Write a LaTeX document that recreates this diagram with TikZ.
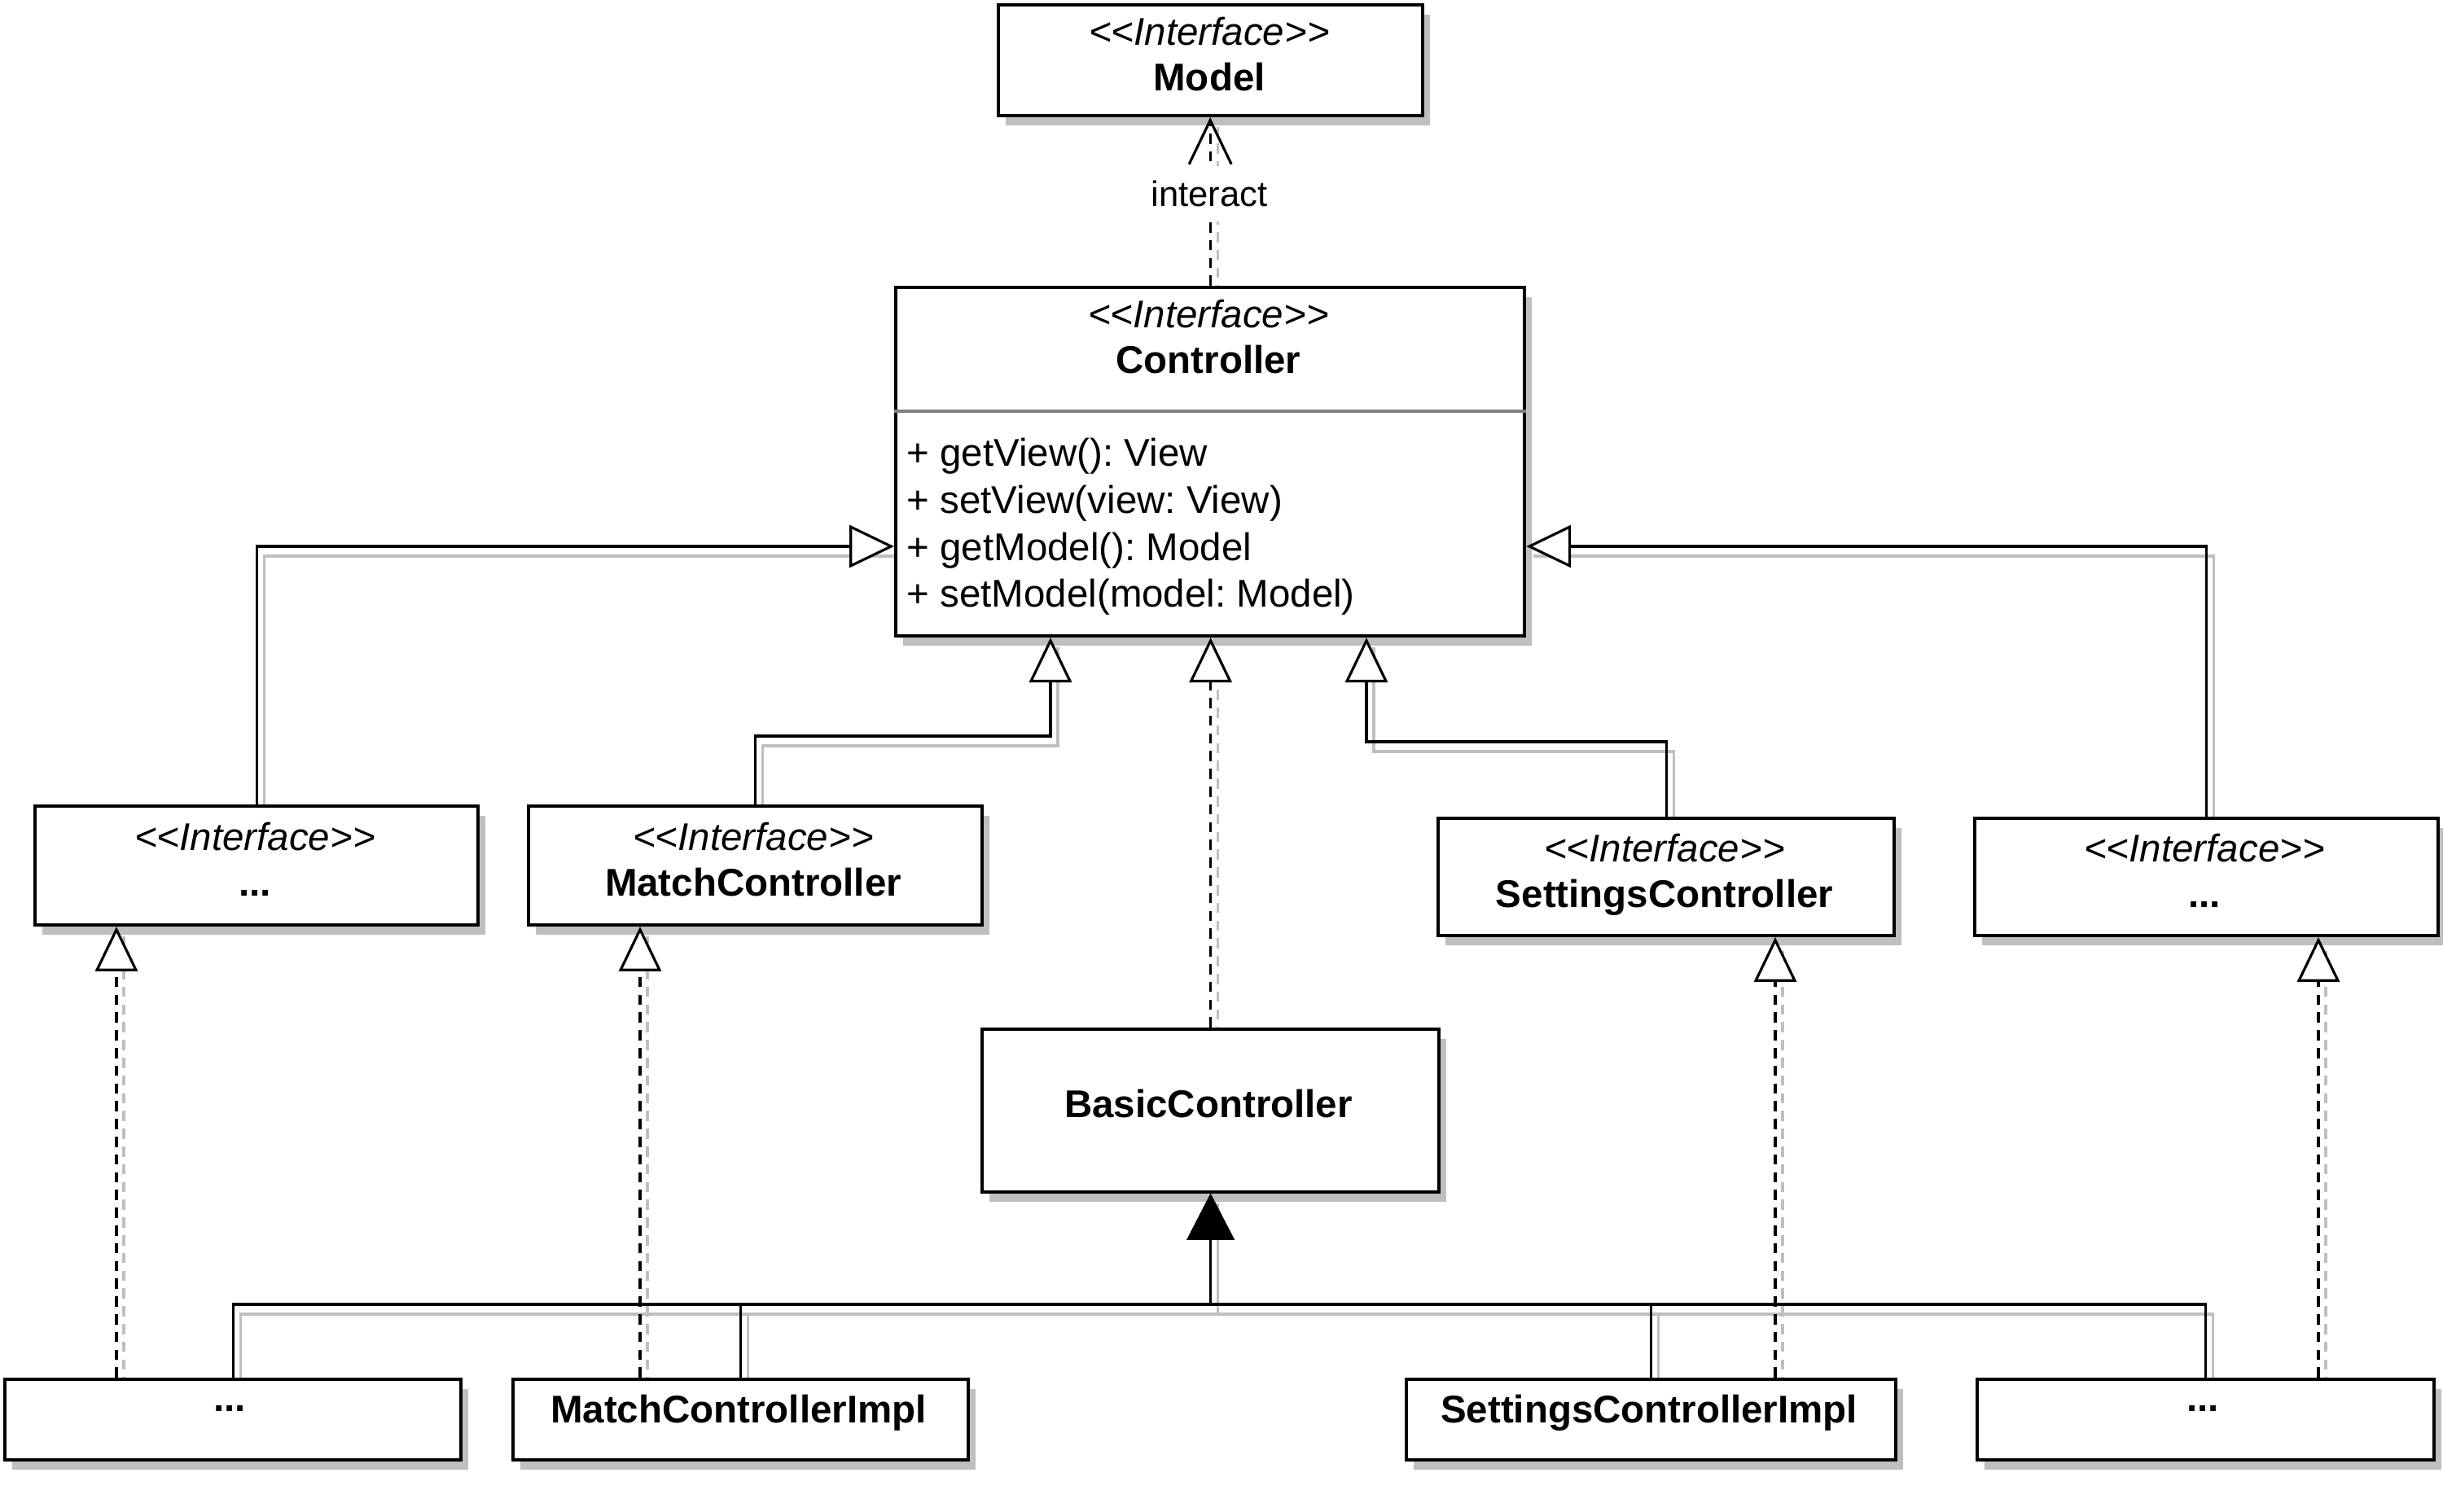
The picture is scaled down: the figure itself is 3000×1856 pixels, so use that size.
\documentclass[tikz,border=0pt]{standalone}
\usepackage{fontspec}
\setmainfont{Liberation Sans}
\usetikzlibrary{arrows.meta,shadows}
\pgfdeclarelayer{background}
\pgfsetlayers{background,main}
\frenchspacing
\newcommand\fs{\fontsize{13.5}{16.4}\selectfont}
\newcommand\conn[2]{%
  \begin{pgfonlayer}{background}\draw[#1,cshadow] #2;\end{pgfonlayer}%
  \draw[#1] #2;}
\begin{document}
\begin{tikzpicture}[x=0.01cm,y=-0.01cm,
  ubox/.style={draw, line width=1.1pt, fill=white, inner sep=0pt, anchor=north west,
    drop shadow={shadow xshift=0.09cm, shadow yshift=-0.12cm, fill=black!25, opacity=1}},
  utxt/.style={anchor=base, inner sep=0pt, font=\fs},
  ustereo/.style={utxt, font=\fs\itshape},
  utitle/.style={utxt, font=\fs\bfseries},
  umeth/.style={utxt, anchor=base west},
  cline/.style={line width=0.9pt, line join=miter},
  cshadow/.style={draw=black!25, arrows=-, transform canvas={shift={(9,12)}}},
  udsh/.style={dash pattern=on 3.6pt off 2.6pt},
  ugen/.style={cline, -{Triangle[length=15.6pt, width=14.8pt, fill=white]}},
  ureal/.style={ugen, udsh},
  udep/.style={cline, udsh, -{Straight Barb[length=15.4pt, width=14.8pt]}},
  uinh/.style={cline, -{Triangle[length=16.2pt, width=16.5pt]}},
  ulbl/.style={fill=white, font=\fontsize{12.4}{14}\selectfont, inner xsep=2pt, inner ysep=5pt}
]
\useasboundingbox (0,0) rectangle (3000,1856);

% boxes
\node[ubox, minimum width=5.21cm, minimum height=1.36cm] (model) at (1224,4) {};
\node[ubox, minimum width=7.72cm, minimum height=4.28cm] (ctrl) at (1098,351) {};
\node[ubox, minimum width=5.44cm, minimum height=1.46cm] (li) at (41,988) {};
\node[ubox, minimum width=5.57cm, minimum height=1.46cm] (mc) at (647,988) {};
\node[ubox, minimum width=5.60cm, minimum height=1.44cm] (sc) at (1764,1003) {};
\node[ubox, minimum width=5.69cm, minimum height=1.44cm] (ri) at (2423,1003) {};
\node[ubox, minimum width=5.61cm, minimum height=2.00cm] (bc) at (1204,1262) {};
\node[ubox, minimum width=5.60cm, minimum height=0.99cm] (b1) at (4,1692) {};
\node[ubox, minimum width=5.59cm, minimum height=0.99cm] (b2) at (628,1692) {};
\node[ubox, minimum width=6.01cm, minimum height=0.99cm] (b3) at (1725,1692) {};
\node[ubox, minimum width=5.61cm, minimum height=0.99cm] (b4) at (2426,1692) {};

\draw[black!50, line width=1pt] (ctrl.west |- 0,505) -- (ctrl.east |- 0,505);

% texts
\node[ustereo] (modelS) at (1485,55) {<{}<Interface>{}>};
\node[utitle] (modelT) at (1485,111) {Model};
\node[ustereo] (ctrlS) at (1484,402) {<{}<Interface>{}>};
\node[utitle] (ctrlT) at (1484,458) {Controller};
\node[umeth] (m1) at (1113,572) {+ getView(): View};
\node[umeth] (m2) at (1113,630) {+ setView(view: View)};
\node[umeth] (m3) at (1113,688) {+ getModel(): Model};
\node[umeth] (m4) at (1113,745) {+ setModel(model: Model)};
\node[ustereo] (liS) at (313,1044) {<{}<Interface>{}>};
\node[utitle] (liT) at (313,1100) {...};
\node[ustereo] (mcS) at (925,1044) {<{}<Interface>{}>};
\node[utitle] (mcT) at (925,1100) {MatchController};
\node[ustereo] (scS) at (2044,1058) {<{}<Interface>{}>};
\node[utitle] (scT) at (2044,1114) {SettingsController};
\node[ustereo] (riS) at (2707,1058) {<{}<Interface>{}>};
\node[utitle] (riT) at (2707,1114) {...};
\node[utitle] (bcT) at (1484,1372) {BasicController};
\node[utitle] (b1T) at (282,1733) {...};
\node[utitle] (b2T) at (907,1747) {MatchControllerImpl};
\node[utitle] (b3T) at (2025,1747) {SettingsControllerImpl};
\node[utitle] (b4T) at (2705,1733) {...};

% connectors
\conn{udep}{(ctrl.north) -- (ctrl.north |- model.south)}
\node[ulbl] (ilbl) at (1485,238) {interact};

\conn{ugen}{(li.north) |- (ctrl.west |- 0,671)}
\conn{ugen}{(ri.north) |- (ctrl.east |- 0,671)}
\conn{ugen}{(mc.north) -- (mc.north |- 0,904) -| (ctrl.south -| 1290,0)}
\conn{ugen}{(sc.north) -- (sc.north |- 0,911) -| (ctrl.south -| 1678,0)}
\conn{ureal}{(bc.north) -- (ctrl.south -| bc.north)}

\conn{ureal}{(b1.north -| 143,0) -- (li.south -| 143,0)}
\conn{ureal}{(b2.north -| 786,0) -- (mc.south -| 786,0)}
\conn{ureal}{(b3.north -| 2180,0) -- (sc.south -| 2180,0)}
\conn{ureal}{(b4.north -| 2847,0) -- (ri.south -| 2847,0)}

\conn{uinh}{(b1.north) -- (b1.north |- 0,1602) -| (bc.south)}
\conn{uinh}{(b2.north) -- (b2.north |- 0,1602) -| (bc.south)}
\conn{uinh}{(b3.north) -- (b3.north |- 0,1602) -| (bc.south)}
\conn{uinh}{(b4.north) -- (b4.north |- 0,1602) -| (bc.south)}
\end{tikzpicture}
\end{document}
